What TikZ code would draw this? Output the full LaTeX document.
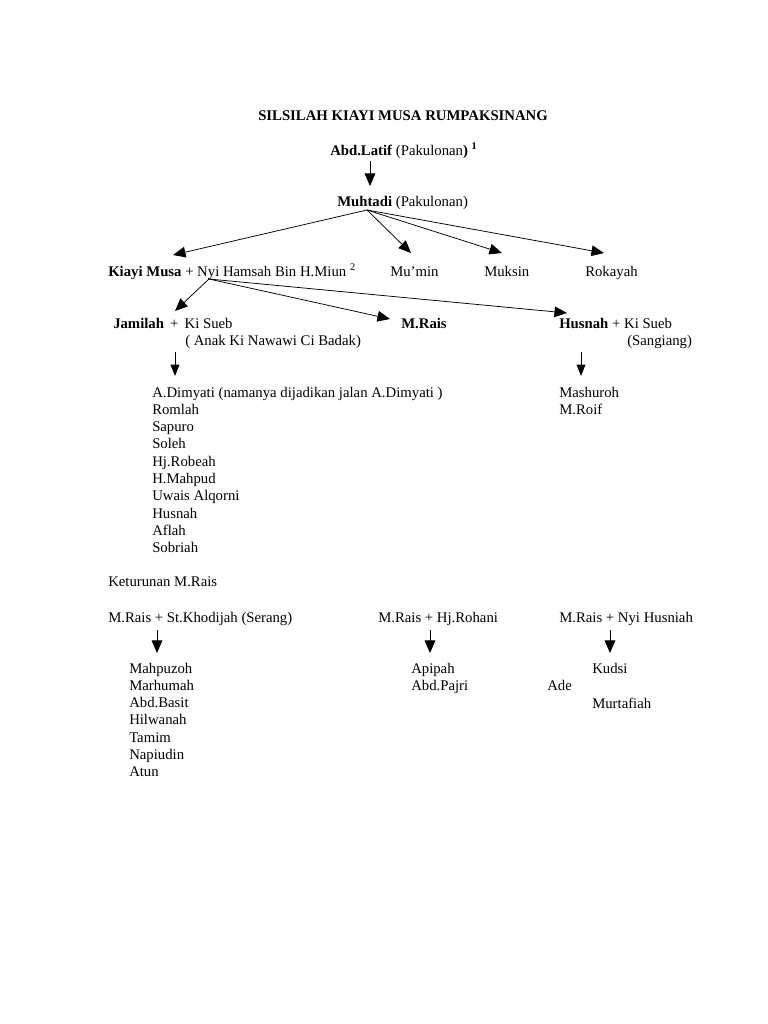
\documentclass[tikz,border=0pt]{standalone}
\usepackage{fontspec}
\setmainfont{Liberation Serif}
\usetikzlibrary{arrows.meta}

\begin{document}
\begin{tikzpicture}[x=0.796875pt, y=-0.796875pt, font=\fontsize{11.75}{14}\selectfont,
    txt/.style = {anchor=base west, inner sep=0pt},
    link/.style = {line width=0.6pt, -{Triangle[length=10pt, width=8.5pt]}},
    down/.style = {line width=0.6pt, -{Triangle[length=9pt, width=7pt]}}]

    \useasboundingbox (0,0) rectangle (768,1024);

    % 1. Judul dan generasi atas
    \node[txt] (judul) at (258,120) {\textbf{SILSILAH KIAYI MUSA RUMPAKSINANG}};
    \node[txt] (latif) at (330,155) {\textbf{Abd.Latif} (Pakulonan\textbf{)} \textsuperscript{\textbf{1}}};
    \node[txt] (muhtadi) at (337,206) {\textbf{Muhtadi} (Pakulonan)};

    % 2. Anak-anak Muhtadi
    \node[txt] (musa) at (108,276) {\textbf{Kiayi Musa} + Nyi Hamsah Bin H.Miun \textsuperscript{2}};
    \node[txt] (mumin) at (390,276) {Mu’min};
    \node[txt] (muksin) at (484,276) {Muksin};
    \node[txt] (rokayah) at (585,276) {Rokayah};

    % 3. Anak-anak Kiayi Musa
    \node[txt] (jamilah) at (113,328) {\textbf{Jamilah} \,+\, Ki Sueb};
    \node[txt] (jamilah2) at (185,345) {( Anak Ki Nawawi Ci Badak)};
    \node[txt] (rais) at (401,328) {\textbf{M.Rais}};
    \node[txt] (husnah) at (559,328) {\textbf{Husnah} + Ki Sueb};
    \node[txt] (husnah2) at (627,345) {(Sangiang)};

    % 4. Keturunan Jamilah dan Husnah
    \foreach \nama [count=\i from 0] in {A.Dimyati (namanya dijadikan jalan A.Dimyati ), Romlah, Sapuro, Soleh, Hj.Robeah, H.Mahpud, Uwais Alqorni, Husnah, Aflah, Sobriah}
        \node[txt] (j\i) at (152,397+17.3*\i) {\nama};
    \node[txt] (h0) at (559,397) {Mashuroh};
    \node[txt] (h1) at (559,414) {M.Roif};

    % 5. Keturunan M.Rais
    \node[txt] (ket) at (108,586) {Keturunan M.Rais};
    \node[txt] (istri1) at (108,622) {M.Rais + St.Khodijah (Serang)};
    \node[txt] (istri2) at (378,622) {M.Rais + Hj.Rohani};
    \node[txt] (istri3) at (559,622) {M.Rais + Nyi Husniah};
    \foreach \nama [count=\i from 0] in {Mahpuzoh, Marhumah, Abd.Basit, Hilwanah, Tamim, Napiudin, Atun}
        \node[txt] (a\i) at (129,673+17.3*\i) {\nama};
    \node[txt] (b0) at (411,673) {Apipah};
    \node[txt] (b1) at (411,690) {Abd.Pajri};
    \node[txt] (c0) at (592,673) {Kudsi};
    \node[txt] (c1) at (547,690) {Ade};
    \node[txt] (c2) at (592,708) {Murtafiah};

    % 6. Titik awal dan ujung panah
    \coordinate (latifbawah) at (370,161);
    \coordinate (muhtadiatas) at (370,186);
    \coordinate (muhtadibawah) at (367,210);
    \coordinate (keMusa) at (173,255);
    \coordinate (keMumin) at (411,253);
    \coordinate (keMuksin) at (502,253);
    \coordinate (keRokayah) at (604,253);
    \coordinate (musabawah) at (209,279);
    \coordinate (keJamilah) at (175,311);
    \coordinate (keRais) at (390,319);
    \coordinate (keHusnah) at (567,313);
    \coordinate (jamilahbawah) at (175,352);
    \coordinate (jamilahanak) at (175,376);
    \coordinate (husnahbawah) at (581,352);
    \coordinate (husnahanak) at (581,376);
    \coordinate (istri1bawah) at (157,630);
    \coordinate (istri1anak) at (157,653);
    \coordinate (istri2bawah) at (430,630);
    \coordinate (istri2anak) at (430,653);
    \coordinate (istri3bawah) at (610,630);
    \coordinate (istri3anak) at (610,653);

    % 7. Panah-panah
    \draw[link] (latifbawah) -- (muhtadiatas);
    \draw[link] (muhtadibawah) -- (keMusa);
    \draw[link] (muhtadibawah) -- (keMumin);
    \draw[link] (muhtadibawah) -- (keMuksin);
    \draw[link] (muhtadibawah) -- (keRokayah);
    \draw[link] (musabawah) -- (keJamilah);
    \draw[link] (musabawah) -- (keRais);
    \draw[link] (musabawah) -- (keHusnah);
    \draw[down] (jamilahbawah) -- (jamilahanak);
    \draw[down] (husnahbawah) -- (husnahanak);
    \draw[link] (istri1bawah) -- (istri1anak);
    \draw[link] (istri2bawah) -- (istri2anak);
    \draw[link] (istri3bawah) -- (istri3anak);
\end{tikzpicture}
\end{document}
